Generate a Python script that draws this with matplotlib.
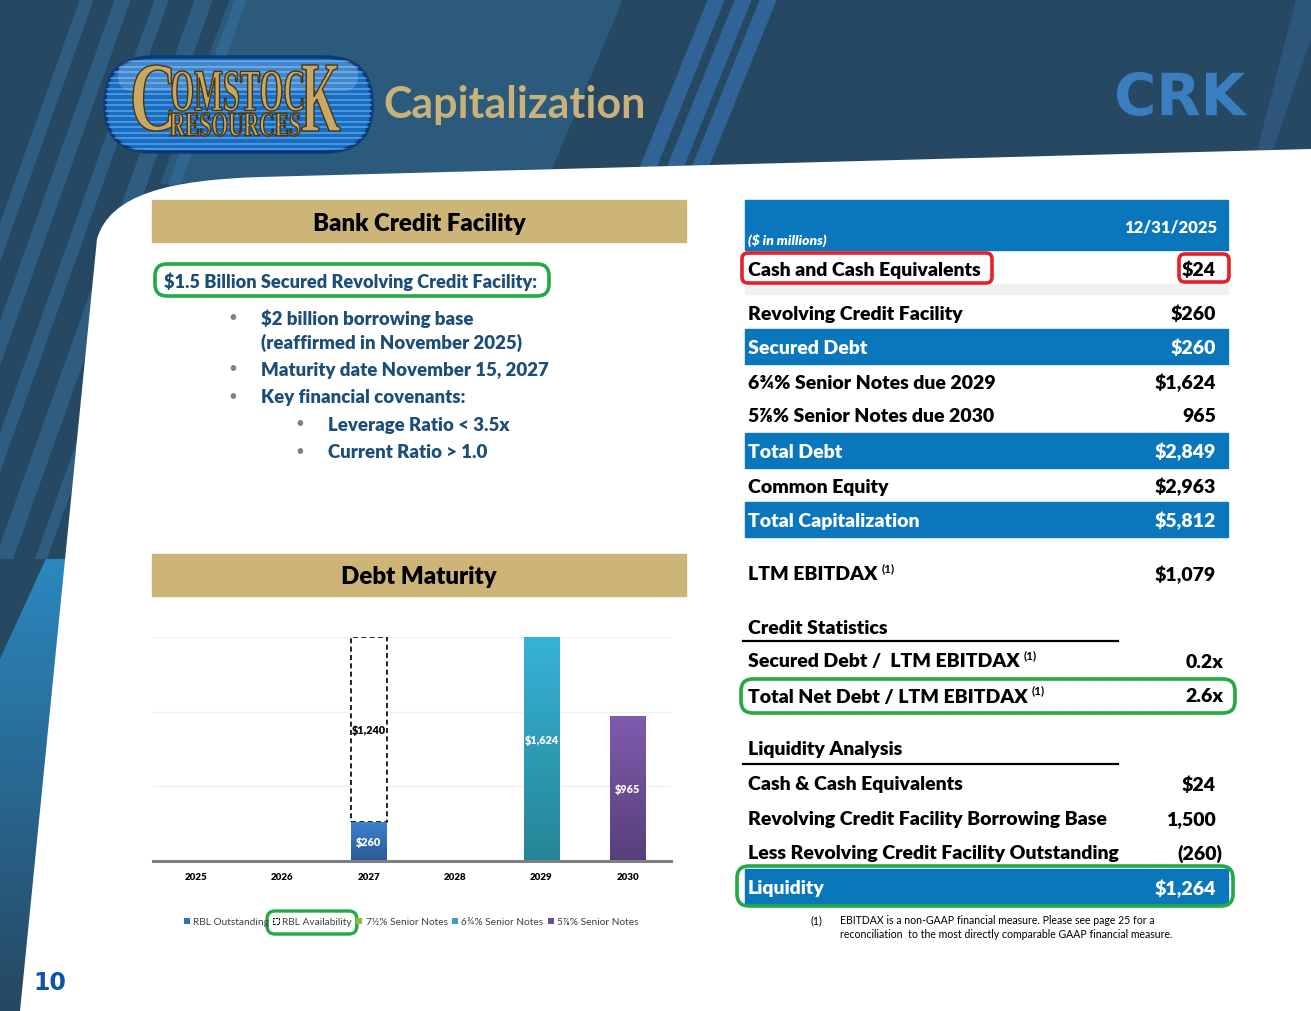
import numpy as np
import matplotlib
matplotlib.use('Agg')
import matplotlib.pyplot as plt
from matplotlib.patches import Polygon, Rectangle, FancyBboxPatch, PathPatch, Patch
from matplotlib.path import Path
from matplotlib.textpath import TextPath
from matplotlib.font_manager import FontProperties
from matplotlib.transforms import Affine2D
from matplotlib.colors import LinearSegmentedColormap

plt.rcParams['font.family'] = ['Lato', 'DejaVu Sans']

# ---------------- data ----------------
years = ['2025', '2026', '2027', '2028', '2029', '2030']
rbl_outstanding = [0, 0, 260, 0, 0, 0]
rbl_availability = [0, 0, 1240, 0, 0, 0]
notes_7_5 = [0, 0, 0, 0, 0, 0]
notes_6_75 = [0, 0, 0, 0, 1624, 0]
notes_5_875 = [0, 0, 0, 0, 0, 965]
series_names = ['RBL Outstanding', 'RBL Availability', '7½% Senior Notes',
                '6¾% Senior Notes', '5⅞% Senior Notes']

cap_labels = ['Cash and Cash Equivalents', 'Revolving Credit Facility', 'Secured Debt',
              '6¾% Senior Notes due 2029', '5⅞% Senior Notes due 2030', 'Total Debt',
              'Common Equity', 'Total Capitalization', 'LTM EBITDAX']
cap_values = ['$24', '$260', '$260', '$1,624', '965', '$2,849', '$2,963', '$5,812', '$1,079']
credit_labels = ['Secured Debt /  LTM EBITDAX', 'Total Net Debt / LTM EBITDAX']
credit_values = ['0.2x', '2.6x']
liq_labels = ['Cash & Cash Equivalents', 'Revolving Credit Facility Borrowing Base',
              'Less Revolving Credit Facility Outstanding', 'Liquidity']
liq_values = ['$24', '1,500', '(260)', '$1,264']

bullets = ['$2 billion borrowing base', '(reaffirmed in November 2025)',
           'Maturity date November 15, 2027', 'Key financial covenants:']
sub_bullets = ['Leverage Ratio < 3.5x', 'Current Ratio > 1.0']

# ---------------- styles ----------------
NAVY = '#274862'
GOLD = '#cdb477'
TBLUE = '#0a77bc'
LNAVY = '#1d4e78'
GREEN = '#22aa44'
RED = '#e3202b'
BW = 'heavy'

W, H = 1311, 1012
fig = plt.figure(figsize=(W / 100, H / 100), dpi=100)
bg = fig.add_axes([0, 0, 1, 1])
bg.set_xlim(0, W)
bg.set_ylim(H, 0)
bg.axis('off')

# background
bg.add_patch(Rectangle((0, 0), W, H, color=NAVY, zorder=0))
bg.add_patch(Polygon([(230, 0), (623, 0), (552, 170), (160, 185)], closed=True,
                     color='#2f6a92', alpha=0.55, lw=0, zorder=1))
for xt in (708, 735, 760):
    bg.add_patch(Polygon([(xt, 0), (xt + 17, 0), (xt + 17 - 69, 170), (xt - 69, 170)],
                         closed=True, color='#33689c', alpha=0.9, lw=0, zorder=1))
bg.add_patch(Polygon([(1296, 0), (1311, 0), (1311, 40), (1270, 160), (1255, 160)],
                     closed=True, color='#33689c', alpha=0.45, lw=0, zorder=1))
for xt, wd in ((20, 14), (55, 16), (95, 14), (135, 18), (175, 12)):
    bg.add_patch(Polygon([(xt + 60, 0), (xt + 60 + wd, 0), (xt - 140 + wd, 560), (xt - 140, 560)],
                         closed=True, color='#3a7db2', alpha=0.4, lw=0, zorder=1))
grad = np.linspace(0, 1, 256).reshape(-1, 1)
cm_left = LinearSegmentedColormap.from_list('l', [NAVY, '#2c8cc5'])
im = bg.imshow(grad, extent=[0, 110, 560, H], cmap=cm_left, aspect='auto', zorder=1,
               alpha=0.95)
im.set_clip_path(Polygon([(0, 660), (110, 420), (110, H), (0, H)], closed=True,
                         transform=bg.transData))

# white content area
verts = [(W, 150), (260, 178), (170, 181), (110, 195), (97, 240), (20, H), (W, H), (W, 150)]
codes = [Path.MOVETO, Path.LINETO, Path.CURVE4, Path.CURVE4, Path.CURVE4,
         Path.LINETO, Path.LINETO, Path.CLOSEPOLY]
bg.add_patch(PathPatch(Path(verts, codes), facecolor='white', edgecolor='none', zorder=2))


def box_text(s, x0, x1, ytop, ybot, fp, **kw):
    tp = TextPath((0, 0), s, prop=fp, size=100)
    bb = tp.get_extents()
    sx = (x1 - x0) / bb.width
    sy = (ybot - ytop) / bb.height
    tr = Affine2D().translate(-bb.x0, -bb.y0).scale(sx, -sy).translate(x0, ybot)
    bg.add_patch(PathPatch(tr.transform_path(tp), **kw))


# logo pill
pill = FancyBboxPatch((105, 58), 267, 95, boxstyle='round,pad=0,rounding_size=47',
                      facecolor='#1b6cc0', edgecolor='#0b3a78', lw=2.5, zorder=3)
bg.add_patch(pill)
for yy in np.arange(62, 152, 5.5):
    ln, = bg.plot([100, 380], [yy, yy], color='#5fb0f0', lw=1.3, alpha=0.7, zorder=3)
    ln.set_clip_path(pill)
gloss = FancyBboxPatch((118, 62), 240, 30, boxstyle='round,pad=0,rounding_size=15',
                       facecolor='white', alpha=0.18, edgecolor='none', zorder=3)
bg.add_patch(gloss)
serif = FontProperties(family='Liberation Serif', weight='bold')
gkw = dict(facecolor='#c9a865', edgecolor='#4a3512', lw=1.0, zorder=4)
box_text('C', 133, 172, 66, 132, serif, **gkw)
box_text('OMSTOC', 172, 303, 72, 112, serif, **gkw)
box_text('K', 302, 340, 66, 132, serif, **gkw)
box_text('RESOURCES', 170, 300, 114, 137, serif, **gkw)

bg.text(383, 105, 'Capitalization', fontsize=31, color='#c9b27a', va='center',
        ha='left', fontweight='bold', zorder=4)
box_text('CRK', 1117, 1247, 73, 117, FontProperties(family='DejaVu Sans', weight='bold'),
         facecolor='#3a7ebf', edgecolor='none', zorder=4)

# ---------------- left panel ----------------
for (yt, yb, title) in ((201, 243, 'Bank Credit Facility'), (555, 597, 'Debt Maturity')):
    bg.add_patch(Rectangle((152, yt), 534, yb - yt, color=GOLD, zorder=3))
    bg.text(419, (yt + yb) / 2 + 1.5, title, fontsize=17.3, fontweight=BW, color='black',
            ha='center', va='center', zorder=4)

bg.text(164, 282, '$1.5 Billion Secured Revolving Credit Facility:', fontsize=13.1,
        fontweight=BW, color=LNAVY, ha='left', va='center', zorder=4)


def oval(x0, y0, x1, y1, color, r=12, lw=2.6):
    bg.add_patch(FancyBboxPatch((x0, y0), x1 - x0, y1 - y0,
                                boxstyle=f'round,pad=0,rounding_size={r}',
                                facecolor='none', edgecolor=color, lw=lw, zorder=6))


oval(155, 265, 549, 297, GREEN)

bullet_y = [319, 343, 370, 398]
bullet_dot = [True, False, True, True]
for txt, yy, dot in zip(bullets, bullet_y, bullet_dot):
    if dot:
        bg.text(233, yy - 1, '•', fontsize=11, color='#8c8070', ha='center', va='center', zorder=4)
    bg.text(261, yy, txt, fontsize=13.4, fontweight=BW, color=LNAVY, ha='left',
            va='center', zorder=4)
for txt, yy in zip(sub_bullets, [425, 453]):
    bg.text(300, yy - 1, '•', fontsize=11, color='#8c8070', ha='center', va='center', zorder=4)
    bg.text(328, yy, txt, fontsize=13.4, fontweight=BW, color=LNAVY, ha='left',
            va='center', zorder=4)

# ---------------- bar chart ----------------
x0p, x1p, ytp, ybp = 153, 671, 638, 862
ax = fig.add_axes([x0p / W, (H - ybp) / H, (x1p - x0p) / W, (ybp - ytp) / H])
ax.set_facecolor('none')
ax.set_zorder(5)
x = np.arange(len(years))
bw = 0.41
ax.set_xlim(-0.5, len(years) - 0.5)
ax.set_ylim(0, 1500)


def grad_bar(rects, c_top, c_bot):
    cm = LinearSegmentedColormap.from_list('g', [c_bot, c_top])
    g = np.linspace(0, 1, 128).reshape(-1, 1)
    for r in rects:
        h = r.get_height()
        if h <= 0:
            continue
        xx, yy = r.get_x(), r.get_y()
        imb = ax.imshow(g, extent=[xx, xx + r.get_width(), yy, yy + h], origin='lower',
                        cmap=cm, aspect='auto', zorder=r.get_zorder() + 0.1)
        imb.set_clip_path(r)
        imb.set_clip_box(ax.bbox)


ro = np.array(rbl_outstanding)
ra = np.array(rbl_availability)
n75 = np.array(notes_7_5)
n675 = np.array(notes_6_75)
n5875 = np.array(notes_5_875)

b1 = ax.bar(x, ro, bw, color='#3270bb', zorder=3)
grad_bar(b1, '#3d82cf', '#2b5998')
m = ra > 0
ax.bar(x[m], ra[m], bw, bottom=ro[m], facecolor='white', edgecolor='black',
       linestyle=(0, (3, 2)), lw=1.2, zorder=3)
m = n75 > 0
ax.bar(x[m], n75[m], bw, bottom=(ro + ra)[m], color='#8dbb3c', zorder=3)
b4 = ax.bar(x, n675, bw, color='#31a5c6', zorder=3)
grad_bar(b4, '#38b6dc', '#258596')
b5 = ax.bar(x, n5875, bw, color='#6a4c97', zorder=3)
grad_bar(b5, '#7e5bac', '#583f7c')
ax.set_ylim(0, 1500)

lkw = dict(ha='center', va='center', fontsize=7.8, fontweight=BW, zorder=6)
for i in range(len(years)):
    if ro[i] > 0:
        ax.text(x[i], ro[i] / 2, f'${ro[i]:,}', color='white', **lkw)
    if ra[i] > 0:
        ax.text(x[i], ro[i] + ra[i] / 2, f'${ra[i]:,}', color='black', **lkw)
    if n675[i] > 0:
        ax.text(x[i], n675[i] / 2, f'${n675[i]:,}', color='white', **lkw)
    if n5875[i] > 0:
        ax.text(x[i], n5875[i] / 2, f'${n5875[i]:,}', color='white', **lkw)

ax.set_yticks([0, 500, 1000, 1500])
ax.set_yticklabels([])
ax.yaxis.grid(True, color='#efefef', lw=0.9, zorder=0)
ax.set_axisbelow(True)
ax.set_xticks(x)
ax.set_xticklabels(years, fontsize=7, fontweight=BW)
ax.tick_params(length=0, pad=8)
for s in ('left', 'right', 'top'):
    ax.spines[s].set_visible(False)
ax.spines['bottom'].set_color('#7f7f7f')
ax.spines['bottom'].set_linewidth(2.2)
ax.spines['bottom'].set_zorder(4)

handles = [Patch(facecolor='#3270bb'),
           Patch(facecolor='white', edgecolor='black', linestyle=(0, (2, 1)), lw=0.8),
           Patch(facecolor='#8dbb3c'), Patch(facecolor='#31a5c6'), Patch(facecolor='#6a4c97')]
leg = fig.legend(handles, series_names, loc='center', bbox_to_anchor=(411 / W, (H - 923) / H),
                 ncol=5, frameon=False, fontsize=7.3, handlelength=0.6, handleheight=0.6,
                 handletextpad=0.3, columnspacing=0.45, labelcolor='#404040')

# ---------------- right table ----------------
TX, TXR, TL, TR = 748, 1216, 745, 1228
bg.add_patch(Rectangle((TL, 201), TR - TL, 50, color=TBLUE, zorder=3))
bg.text(748, 240, '($ in millions)', fontsize=10, fontstyle='italic', fontweight=BW,
        color='white', ha='left', va='center', zorder=4)
bg.text(1217, 227, '12/31/2025', fontsize=12, fontweight=BW, color='white',
        ha='right', va='center', zorder=4)
bg.add_patch(Rectangle((TL, 285), TR - TL, 10, color='#f1f1f1', zorder=3))

fs = 14.0
dy = 1
cap_y = [269, 313, 347, 382, 416, 451, 486, 520, 574]
cap_band = [False, False, True, False, False, True, False, True, False]
sup_items = []
for lab, val, yy, band in zip(cap_labels, cap_values, cap_y, cap_band):
    col = 'white' if band else 'black'
    if band:
        bg.add_patch(Rectangle((TL, yy - 17.5), TR - TL, 35, color=TBLUE, zorder=3))
    t = bg.text(TX, yy + dy, lab, fontsize=fs, fontweight=BW, color=col, ha='left',
                va='center', zorder=4)
    bg.text(TXR, yy + dy, val, fontsize=fs, fontweight=BW, color=col, ha='right',
            va='center', zorder=4)
    if lab == 'LTM EBITDAX':
        sup_items.append((t, yy))

bg.text(TX, 627 + dy, 'Credit Statistics', fontsize=fs, fontweight=BW, color='black',
        ha='left', va='center', zorder=4)
bg.plot([743, 1118], [642, 642], color='black', lw=1.6, zorder=4)
for lab, val, yy in zip(credit_labels, credit_values, [661, 696]):
    t = bg.text(TX, yy + dy, lab, fontsize=fs, fontweight=BW, color='black', ha='left',
                va='center', zorder=4)
    bg.text(1223, yy + dy, val, fontsize=fs, fontweight=BW, color='black', ha='right',
            va='center', zorder=4)
    sup_items.append((t, yy))

bg.text(TX, 749 + dy, 'Liquidity Analysis', fontsize=fs, fontweight=BW, color='black',
        ha='left', va='center', zorder=4)
bg.plot([743, 1118], [765, 765], color='black', lw=1.6, zorder=4)
liq_y = [784, 819, 853, 888]
liq_xr = [1216, 1216, 1222, 1216]
for lab, val, yy, xr in zip(liq_labels, liq_values, liq_y, liq_xr):
    band = lab == 'Liquidity'
    col = 'white' if band else 'black'
    if band:
        bg.add_patch(Rectangle((TL, yy - 18), TR - TL, 36, color=TBLUE, zorder=3))
    bg.text(TX, yy + dy, lab, fontsize=fs, fontweight=BW, color=col, ha='left',
            va='center', zorder=4)
    bg.text(xr, yy + dy, val, fontsize=fs, fontweight=BW, color=col, ha='right',
            va='center', zorder=4)

oval(742, 254, 992, 284, RED, r=6)
oval(1179, 255, 1229, 283, RED, r=6)
oval(741, 680, 1235, 714, GREEN, r=12)
oval(737, 867, 1233, 907, GREEN, r=12)

bg.text(816, 921, '(1)', fontsize=7.6, color='black', ha='center', va='center', zorder=4)
bg.text(840, 921, 'EBITDAX is a non-GAAP financial measure. Please see page 25 for a',
        fontsize=7.6, color='black', ha='left', va='center', zorder=4)
bg.text(840, 935, 'reconciliation  to the most directly comparable GAAP financial measure.',
        fontsize=7.6, color='black', ha='left', va='center', zorder=4)

bg.text(33, 983, '10', fontsize=17, fontweight='bold', color='#0d56a6', ha='left',
        va='center', family='DejaVu Sans', zorder=4)

# superscripts after measured label ends; oval around legend entry
fig.canvas.draw()
r = fig.canvas.get_renderer()
inv = bg.transData.inverted()
for t, yy in sup_items:
    bb = t.get_window_extent(renderer=r)
    xe = inv.transform((bb.x1, bb.y0))[0]
    bg.text(xe + 4, yy - 5, '(1)', fontsize=8.5, fontweight='bold', color='black',
            ha='left', va='center', zorder=4)

tb = leg.get_texts()[1].get_window_extent(renderer=r)
hb = leg.legend_handles[1].get_window_extent(renderer=r)
xa = inv.transform((hb.x0, 0))[0]
xb = inv.transform((tb.x1, 0))[0]
oval(xa - 6, 912, xb + 5, 935, GREEN, r=8, lw=2.4)

fig.savefig('out.png', dpi=100)
